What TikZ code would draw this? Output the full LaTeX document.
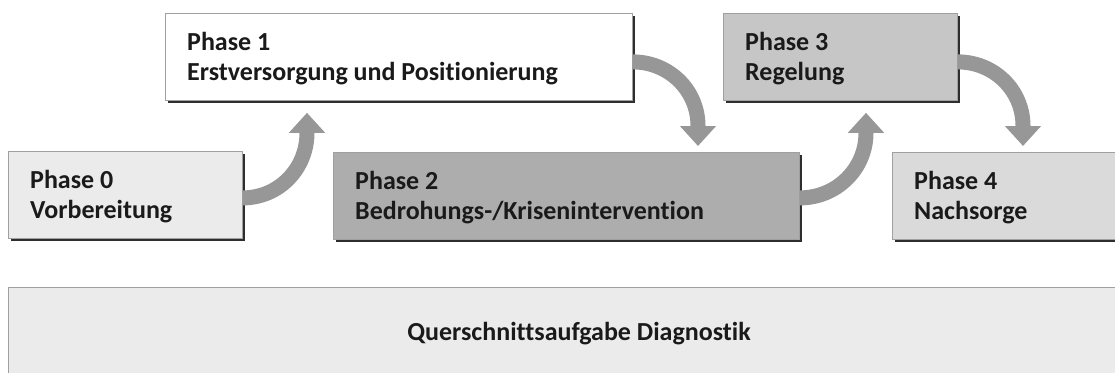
\documentclass[tikz,border=0pt]{standalone}
\usepackage{fontspec}
\setmainfont{Carlito}[Ligatures=NoCommon]
\usetikzlibrary{arrows.meta,calc}
\definecolor{arrowgray}{HTML}{979797}
\definecolor{boxborder}{HTML}{A0A0A0}
\definecolor{shadowcol}{HTML}{2E2E2E}
\definecolor{fillA}{HTML}{EBEBEB}
\definecolor{fillB}{HTML}{FFFFFF}
\definecolor{fillC}{HTML}{ADADAD}
\definecolor{fillD}{HTML}{C6C6C6}
\definecolor{fillE}{HTML}{DADADA}
\definecolor{txtcol}{HTML}{1A1A1A}
\begin{document}
\begin{tikzpicture}[x=1pt,y=-1pt,
  phasebox/.style={draw=boxborder, line width=0.8pt, fill=#1, anchor=north west,
    inner sep=0pt, minimum width=234pt, minimum height=87pt,
    preaction={fill=shadowcol, transform canvas={xshift=2.5pt,yshift=-2.5pt}}},
  widebox/.style={phasebox=#1, minimum width=467pt},
  lbl/.style={anchor=base west, inner sep=0pt, text=txtcol,
    font=\fontsize{26pt}{30pt}\selectfont\bfseries},
  flow/.style={draw=arrowgray, line width=15pt,
    -{Triangle[width=35pt,length=20pt]}}]
\useasboundingbox (0,0) rectangle (1115,372);

% bottom band
\node[draw=boxborder, line width=0.8pt, fill=fillA, anchor=north west, inner sep=0pt,
  minimum width=1130pt, minimum height=100pt] (diag) at (8,287) {};
\node[lbl, anchor=base] (diagt) at ($(diag.north west)+(571,53)$) {Querschnittsaufgabe Diagnostik};

% phase boxes
\node[phasebox=fillA] (p0) at (8,151) {};
\node[widebox=fillB] (p1) at (165,13) {};
\node[widebox=fillC, minimum width=466pt] (p2) at (333,152) {};
\node[phasebox=fillD] (p3) at (723,13) {};
\node[phasebox=fillE] (p4) at (892,152) {};

% labels
\node[lbl] (p0a) at ($(p0.north west)+(22,37)$) {Phase 0};
\node[lbl] (p0b) at ($(p0.north west)+(22,67)$) {Vorbereitung};
\node[lbl] (p1a) at ($(p1.north west)+(22,37)$) {Phase 1};
\node[lbl] (p1b) at ($(p1.north west)+(22,67)$) {Erstversorgung und Positionierung};
\node[lbl] (p2a) at ($(p2.north west)+(22,37)$) {Phase 2};
\node[lbl] (p2b) at ($(p2.north west)+(22,67)$) {Bedrohungs-/Krisenintervention};
\node[lbl] (p3a) at ($(p3.north west)+(22,37)$) {Phase 3};
\node[lbl] (p3b) at ($(p3.north west)+(22,67)$) {Regelung};
\node[lbl] (p4a) at ($(p4.north west)+(22,37)$) {Phase 4};
\node[lbl] (p4b) at ($(p4.north west)+(22,67)$) {Nachsorge};

% connectors
\coordinate (e01) at ($(p1.south west)+(142,32)$);
\coordinate (t01) at ($(p1.south west)+(142,12)$);
\draw[flow] ($(p0.east)+(0,3)$) .. controls +(36,0) and +(0,36) .. (e01) -- (t01);

\coordinate (e12) at ($(p2.north west)+(365,-26)$);
\coordinate (t12) at ($(p2.north west)+(365,-6)$);
\draw[flow] ($(p1.east)+(0,5)$) .. controls +(36,0) and +(0,-36) .. (e12) -- (t12);

\coordinate (e23) at ($(p3.south west)+(143,32)$);
\coordinate (t23) at ($(p3.south west)+(143,12)$);
\draw[flow] ($(p2.east)+(0,2)$) .. controls +(37,0) and +(0,36) .. (e23) -- (t23);

\coordinate (e34) at ($(p4.north west)+(131,-26)$);
\coordinate (t34) at ($(p4.north west)+(131,-6)$);
\draw[flow] ($(p3.east)+(0,5)$) .. controls +(36,0) and +(0,-36) .. (e34) -- (t34);
\end{tikzpicture}
\end{document}
